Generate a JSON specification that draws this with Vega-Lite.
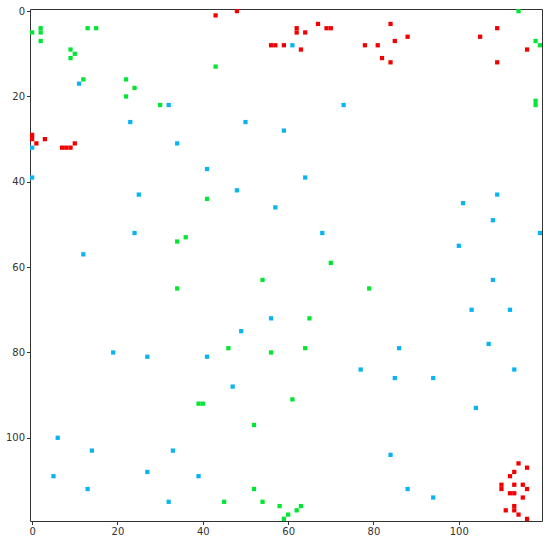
{
  "$schema": "https://vega.github.io/schema/vega-lite/v6.json",
  "width": 512,
  "height": 512,
  "autosize": {"type": "none"},
  "padding": {"left": 30, "top": 9, "right": 8, "bottom": 21},
  "background": "white",
  "config": {"view": {"stroke": "#333", "strokeWidth": 1}},
  "datasets": {
    "cells": [
      {"x":43,"y":1,"c":"r"},{"x":48,"y":0,"c":"r"},{"x":62,"y":4,"c":"r"},{"x":62,"y":5,"c":"r"},{"x":64,"y":5,"c":"r"},{"x":67,"y":3,"c":"r"},{"x":69,"y":4,"c":"r"},{"x":70,"y":4,"c":"r"},{"x":56,"y":8,"c":"r"},{"x":57,"y":8,"c":"r"},{"x":59,"y":8,"c":"r"},{"x":63,"y":9,"c":"r"},{"x":78,"y":8,"c":"r"},{"x":81,"y":8,"c":"r"},{"x":84,"y":3,"c":"r"},{"x":85,"y":7,"c":"r"},{"x":88,"y":6,"c":"r"},{"x":82,"y":11,"c":"r"},{"x":84,"y":12,"c":"r"},{"x":105,"y":6,"c":"r"},{"x":109,"y":4,"c":"r"},{"x":109,"y":12,"c":"r"},{"x":116,"y":9,"c":"r"},
      {"x":0,"y":29,"c":"r"},{"x":0,"y":30,"c":"r"},{"x":1,"y":31,"c":"r"},{"x":3,"y":30,"c":"r"},{"x":7,"y":32,"c":"r"},{"x":8,"y":32,"c":"r"},{"x":9,"y":32,"c":"r"},{"x":10,"y":31,"c":"r"},
      {"x":114,"y":106,"c":"r"},{"x":116,"y":107,"c":"r"},{"x":113,"y":108,"c":"r"},{"x":112,"y":109,"c":"r"},{"x":110,"y":111,"c":"r"},{"x":110,"y":112,"c":"r"},{"x":113,"y":111,"c":"r"},{"x":115,"y":111,"c":"r"},{"x":116,"y":112,"c":"r"},{"x":112,"y":113,"c":"r"},{"x":113,"y":113,"c":"r"},{"x":115,"y":114,"c":"r"},{"x":111,"y":117,"c":"r"},{"x":113,"y":116,"c":"r"},{"x":113,"y":117,"c":"r"},{"x":114,"y":118,"c":"r"},{"x":116,"y":119,"c":"r"},
      {"x":0,"y":5,"c":"g"},{"x":2,"y":4,"c":"g"},{"x":2,"y":5,"c":"g"},{"x":2,"y":7,"c":"g"},{"x":13,"y":4,"c":"g"},{"x":15,"y":4,"c":"g"},{"x":9,"y":9,"c":"g"},{"x":10,"y":10,"c":"g"},{"x":9,"y":11,"c":"g"},{"x":12,"y":16,"c":"g"},{"x":22,"y":16,"c":"g"},{"x":24,"y":18,"c":"g"},{"x":22,"y":20,"c":"g"},{"x":30,"y":22,"c":"g"},{"x":43,"y":13,"c":"g"},{"x":114,"y":0,"c":"g"},{"x":118,"y":7,"c":"g"},{"x":119,"y":8,"c":"g"},{"x":118,"y":21,"c":"g"},{"x":118,"y":22,"c":"g"},
      {"x":41,"y":44,"c":"g"},{"x":34,"y":54,"c":"g"},{"x":36,"y":53,"c":"g"},{"x":34,"y":65,"c":"g"},{"x":70,"y":59,"c":"g"},{"x":54,"y":63,"c":"g"},{"x":79,"y":65,"c":"g"},{"x":65,"y":72,"c":"g"},{"x":46,"y":79,"c":"g"},{"x":56,"y":80,"c":"g"},{"x":64,"y":79,"c":"g"},
      {"x":39,"y":92,"c":"g"},{"x":40,"y":92,"c":"g"},{"x":61,"y":91,"c":"g"},{"x":52,"y":97,"c":"g"},{"x":52,"y":112,"c":"g"},{"x":45,"y":115,"c":"g"},{"x":54,"y":115,"c":"g"},{"x":58,"y":116,"c":"g"},{"x":63,"y":116,"c":"g"},{"x":62,"y":117,"c":"g"},{"x":60,"y":118,"c":"g"},{"x":59,"y":119,"c":"g"},
      {"x":11,"y":17,"c":"b"},{"x":32,"y":22,"c":"b"},{"x":23,"y":26,"c":"b"},{"x":0,"y":32,"c":"b"},{"x":34,"y":31,"c":"b"},{"x":0,"y":39,"c":"b"},{"x":61,"y":8,"c":"b"},{"x":73,"y":22,"c":"b"},{"x":50,"y":26,"c":"b"},{"x":59,"y":28,"c":"b"},{"x":41,"y":37,"c":"b"},{"x":64,"y":39,"c":"b"},
      {"x":25,"y":43,"c":"b"},{"x":24,"y":52,"c":"b"},{"x":12,"y":57,"c":"b"},{"x":48,"y":42,"c":"b"},{"x":57,"y":46,"c":"b"},{"x":68,"y":52,"c":"b"},{"x":56,"y":72,"c":"b"},{"x":49,"y":75,"c":"b"},{"x":19,"y":80,"c":"b"},
      {"x":109,"y":43,"c":"b"},{"x":101,"y":45,"c":"b"},{"x":108,"y":49,"c":"b"},{"x":119,"y":52,"c":"b"},{"x":100,"y":55,"c":"b"},{"x":108,"y":63,"c":"b"},{"x":103,"y":70,"c":"b"},{"x":112,"y":70,"c":"b"},{"x":86,"y":79,"c":"b"},{"x":107,"y":78,"c":"b"},
      {"x":27,"y":81,"c":"b"},{"x":41,"y":81,"c":"b"},{"x":6,"y":100,"c":"b"},{"x":14,"y":103,"c":"b"},{"x":33,"y":103,"c":"b"},{"x":5,"y":109,"c":"b"},{"x":27,"y":108,"c":"b"},{"x":39,"y":109,"c":"b"},{"x":13,"y":112,"c":"b"},{"x":32,"y":115,"c":"b"},
      {"x":47,"y":88,"c":"b"},{"x":77,"y":84,"c":"b"},{"x":113,"y":84,"c":"b"},{"x":85,"y":86,"c":"b"},{"x":94,"y":86,"c":"b"},{"x":104,"y":93,"c":"b"},{"x":84,"y":104,"c":"b"},{"x":88,"y":112,"c":"b"},{"x":94,"y":114,"c":"b"}
    ]
  },
  "data": {"name": "cells"},
  "mark": {"type": "square", "size": 18.2, "opacity": 1, "filled": true, "strokeWidth": 0},
  "encoding": {
    "x": {
      "field": "x", "type": "quantitative",
      "scale": {"domain": [-0.5, 119.5], "nice": false, "zero": false},
      "axis": {"values": [0, 20, 40, 60, 80, 100], "title": null, "grid": false, "domain": false,
               "tickSize": 3.5, "tickColor": "#333", "labelPadding": 2, "labelFont": "DejaVu Sans", "labelFontSize": 10, "labelColor": "#333"}
    },
    "y": {
      "field": "y", "type": "quantitative",
      "scale": {"domain": [-0.5, 119.5], "nice": false, "zero": false, "reverse": true},
      "axis": {"values": [0, 20, 40, 60, 80, 100], "title": null, "grid": false, "domain": false,
               "tickSize": 3.5, "tickColor": "#333", "labelPadding": 2, "labelFont": "DejaVu Sans", "labelFontSize": 10, "labelColor": "#333"}
    },
    "color": {
      "field": "c", "type": "nominal", "legend": null,
      "scale": {"domain": ["r", "g", "b"], "range": ["#f20000", "#00e632", "#0ab4f0"]}
    }
  }
}
